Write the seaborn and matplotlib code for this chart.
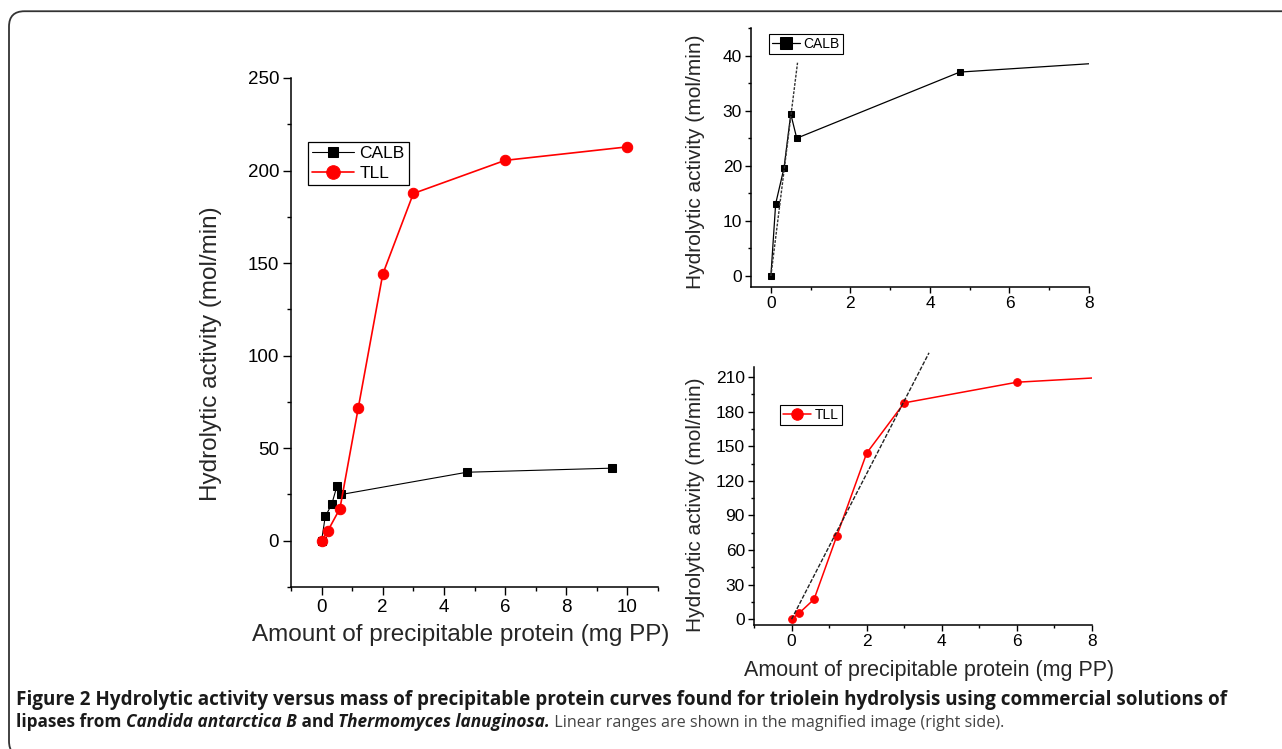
import matplotlib
matplotlib.use("Agg")
import matplotlib.pyplot as plt
import seaborn as sns
import pandas as pd
from matplotlib.patches import FancyBboxPatch
from matplotlib.ticker import MultipleLocator

# ---------------- data ----------------
calb_x = [0, 0.12, 0.33, 0.50, 0.65, 4.75, 9.48]
calb_y = [0, 13.1, 19.6, 29.4, 25.0, 37.0, 39.2]
tll_x = [0, 0.2, 0.6, 1.2, 2.0, 3.0, 6.0, 10.0]
tll_y = [0, 5.2, 17.4, 71.8, 144.0, 187.6, 205.5, 212.8]
# linear-range fit lines shown in the magnified panels
calb_fit_x = [0, 0.67]
calb_fit_y = [0, 38.7]
tll_fit_x = [0, 3.66]
tll_fit_y = [0, 231.0]

xlabel = "Amount of precipitable protein (mg PP)"
ylabel = "Hydrolytic activity (mol/min)"
cap1 = ("Figure 2 Hydrolytic activity versus mass of precipitable protein curves found "
        "for triolein hydrolysis using commercial solutions of")
cap2_parts = [("lipases from ", "normal", "bold"),
              ("Candida antarctica B", "italic", "bold"),
              (" and ", "normal", "bold"),
              ("Thermomyces lanuginosa.", "italic", "bold"),
              (" Linear ranges are shown in the magnified image (right side).", "normal", "normal")]

calb = pd.DataFrame({"x": calb_x, "y": calb_y})
tll = pd.DataFrame({"x": tll_x, "y": tll_y})

sns.set_theme(style="ticks")
plt.rcParams["font.family"] = ["Liberation Sans", "DejaVu Sans"]
plt.rcParams["axes.edgecolor"] = "black"
plt.rcParams["xtick.color"] = "black"
plt.rcParams["ytick.color"] = "black"
plt.rcParams["text.color"] = "black"

W, H = 1282, 749
fig = plt.figure(figsize=(W / 100, H / 100), dpi=100)


def px_axes(l, r, t, b):
    return fig.add_axes([l / W, 1 - b / H, (r - l) / W, (b - t) / H])


def style_axes(ax, tick_fs, maj_len=5, pad=2):
    sns.despine(ax=ax)
    for s in ("left", "bottom"):
        ax.spines[s].set_linewidth(1.1)
        ax.spines[s].set_color("black")
    ax.tick_params(which="major", direction="out", length=maj_len, width=1.0,
                   labelsize=tick_fs, pad=pad, colors="black")
    ax.tick_params(which="minor", direction="out", length=maj_len * 0.55, width=1.0,
                   colors="black")
    ax.set_facecolor("white")


# ---------------- main panel ----------------
ax = px_axes(291, 658, 78, 587)
sns.lineplot(data=calb, x="x", y="y", ax=ax, color="black", marker="s", markersize=6,
             markeredgecolor="black", linewidth=0.8, label="CALB", estimator=None, sort=False)
sns.lineplot(data=tll, x="x", y="y", ax=ax, color="red", marker="o", markersize=7.5,
             markeredgecolor="red", linewidth=1.2, label="TLL", estimator=None, sort=False)
ax.set_xlim(-1, 11)
ax.set_ylim(-25, 250)
ax.xaxis.set_major_locator(MultipleLocator(2))
ax.xaxis.set_minor_locator(MultipleLocator(1))
ax.yaxis.set_major_locator(MultipleLocator(50))
ax.yaxis.set_minor_locator(MultipleLocator(25))
style_axes(ax, 13.5, maj_len=5.5, pad=3)
ax.set_xlabel(xlabel, fontsize=17.5)
ax.set_ylabel(ylabel, fontsize=17.5)
ax.xaxis.set_label_coords(0.463, -0.072)
ax.yaxis.set_label_coords(-0.188, 0.458)
leg = ax.legend(loc="upper left", bbox_to_anchor=(308 / W, 1 - 142 / H),
                bbox_transform=fig.transFigure, borderaxespad=0, fontsize=12.5,
                frameon=True, fancybox=False, edgecolor="black", framealpha=1,
                handlelength=2.4, handletextpad=0.3, labelspacing=0.25,
                borderpad=0.25, markerscale=1.3)
leg.get_frame().set_linewidth(0.9)

# ---------------- CALB magnified ----------------
ax2 = px_axes(751, 1089, 28, 287)
sns.lineplot(data=calb, x="x", y="y", ax=ax2, color="black", marker="s", markersize=5,
             markeredgecolor="black", linewidth=0.9, label="CALB", estimator=None, sort=False)
ax2.plot(calb_fit_x, calb_fit_y, color="#333333", linestyle=(0, (2, 1)), linewidth=1.0)
ax2.set_xlim(-0.5, 8)
ax2.set_ylim(-2, 45)
ax2.xaxis.set_major_locator(MultipleLocator(2))
ax2.xaxis.set_minor_locator(MultipleLocator(1))
ax2.yaxis.set_major_locator(MultipleLocator(10))
ax2.yaxis.set_minor_locator(MultipleLocator(5))
style_axes(ax2, 12.5, maj_len=4, pad=2.5)
ax2.set_xlabel("")
ax2.set_ylabel(ylabel, fontsize=15)
ax2.yaxis.set_label_coords(-0.136, 0.484)
leg2 = ax2.legend(loc="upper left", bbox_to_anchor=(769 / W, 1 - 34 / H),
                  bbox_transform=fig.transFigure, borderaxespad=0, fontsize=10,
                  frameon=True, fancybox=False, edgecolor="black", framealpha=1,
                  handlelength=2.0, handletextpad=0.3, borderpad=0.2, markerscale=1.6)
leg2.get_frame().set_linewidth(0.8)

# ---------------- TLL magnified ----------------
ax3 = px_axes(754, 1092, 367, 625)
sns.lineplot(data=tll, x="x", y="y", ax=ax3, color="red", marker="o", markersize=5.5,
             markeredgecolor="red", linewidth=1.1, label="TLL", estimator=None, sort=False)
ax3.plot(tll_fit_x, tll_fit_y, color="#222222", linestyle=(0, (3, 1.2)), linewidth=1.0,
         clip_on=False)
ax3.set_xlim(-1, 8)
ax3.set_ylim(-5, 218.7)
ax3.xaxis.set_major_locator(MultipleLocator(2))
ax3.xaxis.set_minor_locator(MultipleLocator(1))
ax3.yaxis.set_major_locator(MultipleLocator(30))
ax3.yaxis.set_minor_locator(MultipleLocator(15))
style_axes(ax3, 12.5, maj_len=4, pad=2.5)
ax3.set_xlabel(xlabel, fontsize=15.5)
ax3.set_ylabel(ylabel, fontsize=15)
ax3.xaxis.set_label_coords(0.518, -0.135)
ax3.yaxis.set_label_coords(-0.145, 0.465)
leg3 = ax3.legend(loc="upper left", bbox_to_anchor=(780 / W, 1 - 405 / H),
                  bbox_transform=fig.transFigure, borderaxespad=0, fontsize=10,
                  frameon=True, fancybox=False, edgecolor="black", framealpha=1,
                  handlelength=2.0, handletextpad=0.3, borderpad=0.2, markerscale=1.5)
leg3.get_frame().set_linewidth(0.8)

# ---------------- border ----------------
border = FancyBboxPatch((9 / W, -0.01), 1.1, 0.995,
                        boxstyle="round,pad=0,rounding_size=0.012",
                        transform=fig.transFigure, facecolor="none",
                        edgecolor="#333333", linewidth=1.3, mutation_aspect=W / H)
fig.patches.append(border)

# ---------------- caption ----------------
cap_font = ["Open Sans", "DejaVu Sans"]
fig.text(16 / W, 1 - 705 / H, cap1, fontsize=13.6, family=cap_font, weight="bold",
         color="#1a1a1a", va="baseline", ha="left")
renderer = fig.canvas.get_renderer()
xpos = 16
for txt, st, wt in cap2_parts:
    if wt == "bold":
        fs, col = 12.4, "#1a1a1a"
    else:
        fs, col = 11.6, "#444444"
    t = fig.text(xpos / W, 1 - 727 / H, txt, fontsize=fs,
                 family=cap_font, style=st, weight=wt, color=col, va="baseline", ha="left")
    bb = t.get_window_extent(renderer=renderer)
    xpos += bb.width

fig.savefig("out.png", dpi=100, facecolor="white")
